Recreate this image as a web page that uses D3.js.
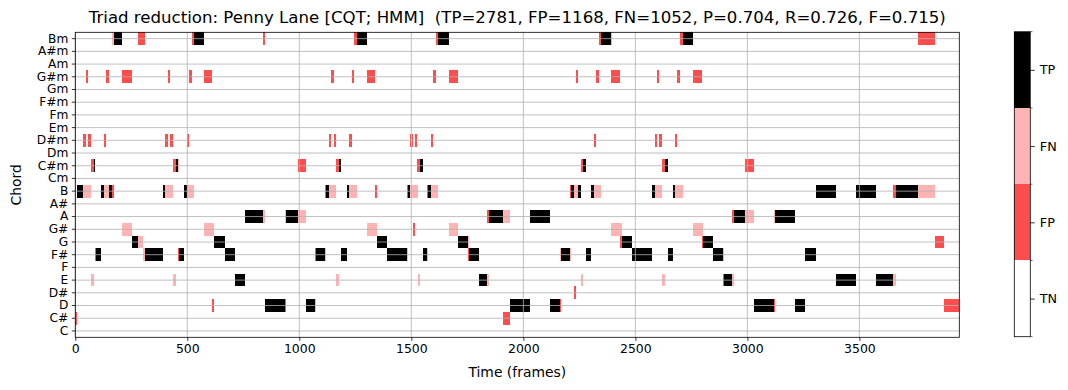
<!DOCTYPE html>
<html><head><meta charset="utf-8">
<script src="https://cdn.jsdelivr.net/npm/d3@7"></script>
<style>
body{margin:0;background:#fff;}
svg text{font-family:"DejaVu Sans",sans-serif;fill:#000;}
</style></head>
<body><svg id="chart" width="1068" height="390"></svg>
<script>
// ---------------- data ----------------
const chords = ["C","C#","D","D#","E","F","F#","G","G#","A","A#","B",
                "Cm","C#m","Dm","D#m","Em","Fm","F#m","Gm","G#m","Am","A#m","Bm"];
const nFrames = 3946;
const xTicks = [0,500,1000,1500,2000,2500,3000,3500];
const cbLabels = ["TN","FP","FN","TP"];
const cbColors = ["#ffffff","#ff4d4d","#ffb3b3","#000000"];
const titleText = "Triad reduction: Penny Lane [CQT; HMM]  (TP=2781, FP=1168, FN=1052, P=0.704, R=0.726, F=0.715)";

// true positives [chord, startFrame, endFrame]
const tpSegs = [
 ["Bm",171,208],["Bm",530,575],["Bm",1258,1302],["Bm",1619,1668],["Bm",2347,2392],["Bm",2713,2757],
 ["C#m",83,89],["C#m",450,458],["C#m",1177,1186],["C#m",1539,1552],["C#m",2266,2280],["C#m",2632,2646],
 ["B",8,34],["B",115,128],["B",150,164],["B",392,400],["B",485,499],["B",1119,1133],["B",1213,1222],
 ["B",1485,1494],["B",1575,1588],["B",2213,2226],["B",2244,2258],["B",2302,2315],["B",2575,2588],
 ["B",2668,2677],["B",3307,3396],["B",3485,3575],["B",3664,3762],
 ["A",758,838],["A",941,994],["A",1847,1909],["A",2030,2119],["A",2941,2990],["A",3124,3213],
 ["G",253,280],["G",619,668],["G",1347,1391],["G",1708,1753],["G",2441,2485],["G",2802,2847],
 ["F#",92,115],["F#",311,392],["F#",463,485],["F#",668,713],["F#",1075,1115],["F#",1186,1213],
 ["F#",1391,1481],["F#",1552,1570],["F#",1758,1802],["F#",2168,2208],["F#",2280,2302],["F#",2485,2575],
 ["F#",2646,2668],["F#",2847,2892],["F#",3258,3307],
 ["E",713,758],["E",1802,1838],["E",2896,2932],["E",3396,3485],["E",3575,3650],
 ["D",847,936],["D",1030,1070],["D",1941,2030],["D",2119,2164],["D",3030,3119],["D",3213,3258]
];
// false positives
const fpSegs = [
 ["Bm",280,311],["Bm",521,530],["Bm",838,847],["Bm",1244,1258],["Bm",1610,1619],["Bm",2338,2347],
 ["Bm",2700,2713],["Bm",3762,3838],
 ["G#m",48,57],["G#m",137,150],["G#m",208,253],["G#m",414,423],["G#m",508,521],["G#m",575,610],
 ["G#m",1142,1155],["G#m",1235,1244],["G#m",1302,1338],["G#m",1597,1610],["G#m",1668,1708],
 ["G#m",2235,2244],["G#m",2324,2338],["G#m",2392,2432],["G#m",2597,2606],["G#m",2686,2700],["G#m",2757,2798],
 ["D#m",34,48],["D#m",57,70],["D#m",128,137],["D#m",400,414],["D#m",423,436],["D#m",499,508],
 ["D#m",1133,1142],["D#m",1155,1164],["D#m",1222,1235],["D#m",1494,1499],["D#m",1503,1508],
 ["D#m",1517,1525],["D#m",1588,1597],["D#m",2315,2324],["D#m",2588,2597],["D#m",2606,2619],["D#m",2677,2686],
 ["C#m",70,83],["C#m",436,450],["C#m",994,1030],["C#m",1164,1177],["C#m",1525,1539],["C#m",2257,2266],
 ["C#m",2619,2632],["C#m",2990,3030],
 ["B",164,172],["B",1115,1119],["B",1338,1347],["B",1481,1485],["B",1570,1575],["B",2208,2213],["B",3650,3664],
 ["A",1838,1847],["A",2932,2941],
 ["G#",1508,1517],
 ["G",2432,2441],["G",2798,2802],["G",3838,3878],
 ["F#",89,92],["F#",458,463],["F#",1070,1075],["F#",1753,1758],
 ["E",2892,2896],
 ["D#",2226,2235],
 ["D",610,619],["D",936,941],["D",2164,2168],["D",3119,3124],["D",3878,3946],
 ["C#",0,7],["C#",1909,1941]
];
// false negatives
const fnSegs = [
 ["Bm",164,171],["Bm",2392,2396],
 ["C#m",458,463],
 ["B",34,70],["B",128,150],["B",400,436],["B",499,530],["B",1133,1164],["B",1222,1258],["B",1494,1530],
 ["B",1588,1619],["B",2226,2244],["B",2315,2347],["B",2588,2619],["B",2677,2713],["B",3762,3838],
 ["A",838,847],["A",936,941],["A",994,1030],["A",1909,1941],["A",2990,3030],["A",3119,3124],
 ["G#",208,253],["G#",575,619],["G#",1302,1347],["G#",1668,1708],["G#",2392,2441],["G#",2757,2802],
 ["G",280,302],["G",1753,1758],
 ["F#",302,311],["F#",1115,1119],["F#",1481,1485],["F#",1570,1575],["F#",2164,2168],["F#",2208,2213],["F#",2892,2896],
 ["E",70,83],["E",436,450],["E",1164,1177],["E",1530,1539],["E",1838,1847],["E",2257,2266],["E",2619,2632],
 ["E",2932,2941],["E",3650,3664],
 ["D",1070,1075]
];

// ---------------- drawing ----------------
const svg = d3.select("#chart");
const L = 75.3, R = 959.3, T = 32.3, B = 337.3;

const x = d3.scaleLinear().domain([0, nFrames]).range([L, R]);
const y = d3.scaleBand().domain(chords.slice().reverse()).range([T, B]).padding(0);

const kinds = [
  {segs: fpSegs, color: cbColors[1]},
  {segs: fnSegs, color: cbColors[2]},
  {segs: tpSegs, color: cbColors[3]}
];

const plot = svg.append("g");
kinds.forEach(k => {
  plot.selectAll(null).data(k.segs).enter().append("rect")
    .attr("x", d => x(d[1]))
    .attr("width", d => Math.max(0.8, x(d[2]) - x(d[1])))
    .attr("y", d => y(d[0]))
    .attr("height", y.bandwidth())
    .attr("fill", k.color)
    .attr("shape-rendering", "crispEdges");
});

// grid on top (matplotlib draws grid above image)
const grid = svg.append("g").attr("stroke", "#b0b0b0").attr("stroke-width", 0.8);
chords.forEach(c => {
  const yy = y(c) + y.bandwidth() / 2;
  grid.append("line").attr("x1", L).attr("x2", R).attr("y1", yy).attr("y2", yy);
});
xTicks.forEach(t => {
  grid.append("line").attr("x1", x(t)).attr("x2", x(t)).attr("y1", T).attr("y2", B);
});

// axes
const xAxis = d3.axisBottom(x).tickValues(xTicks).tickSize(3.5).tickPadding(3.5).tickFormat(d3.format("d"));
const gx = svg.append("g").attr("transform", `translate(0,${B})`).call(xAxis);
gx.select(".domain").remove();
gx.selectAll("line").attr("stroke", "#000").attr("stroke-width", 0.8);
gx.selectAll("text").attr("font-size", "12.5px").attr("font-family", "DejaVu Sans");

const yAxis = d3.axisLeft(y).tickSize(3.5).tickPadding(3.5);
const gy = svg.append("g").attr("transform", `translate(${L},0)`).call(yAxis);
gy.select(".domain").remove();
gy.selectAll("line").attr("stroke", "#000").attr("stroke-width", 0.8);
gy.selectAll("text").attr("font-size", "12.2px").attr("font-family", "DejaVu Sans");

// frame
svg.append("rect").attr("x", L).attr("y", T).attr("width", R - L).attr("height", B - T)
  .attr("fill", "none").attr("stroke", "#000").attr("stroke-width", 0.8);

// labels
svg.append("text").attr("x", (L + R) / 2).attr("y", 23).attr("text-anchor", "middle")
  .attr("font-size", "16.6px").style("white-space", "pre").attr("xml:space", "preserve").text(titleText);
svg.append("text").attr("x", (L + R) / 2).attr("y", 377).attr("text-anchor", "middle")
  .attr("font-size", "13.9px").text("Time (frames)");
svg.append("text").attr("transform", `translate(21,${(T + B) / 2}) rotate(-90)`).attr("text-anchor", "middle")
  .attr("font-size", "13.9px").text("Chord");

// colorbar
const cbL = 1014.3, cbW = 16, cbT = 31.7, cbB = 336.7;
const cy = d3.scaleLinear().domain([0, cbLabels.length]).range([cbB, cbT]);
const cb = svg.append("g");
cb.selectAll(null).data(cbLabels).enter().append("rect")
  .attr("x", cbL).attr("width", cbW)
  .attr("y", (d, i) => cy(i + 1)).attr("height", (d, i) => cy(i) - cy(i + 1))
  .attr("fill", (d, i) => cbColors[i]).attr("shape-rendering", "crispEdges");
cb.append("rect").attr("x", cbL).attr("y", cbT).attr("width", cbW).attr("height", cbB - cbT)
  .attr("fill", "none").attr("stroke", "#000").attr("stroke-width", 0.8);
const cbAxis = d3.axisRight(cy).tickValues(cbLabels.map((d, i) => i + 0.5))
  .tickFormat((d, i) => cbLabels[i]).tickSize(4.5).tickPadding(5);
const gcb = svg.append("g").attr("transform", `translate(${cbL + cbW},0)`).call(cbAxis);
gcb.select(".domain").remove();
gcb.selectAll("line").attr("stroke", "#000").attr("stroke-width", 0.8);
gcb.selectAll("text").attr("font-size", "12.8px").attr("font-family", "DejaVu Sans");
const minor = d3.range(0, cbLabels.length + 1);
gcb.selectAll(null).data(minor).enter().append("line")
  .attr("x1", 0).attr("x2", 2.2).attr("y1", d => cy(d)).attr("y2", d => cy(d))
  .attr("stroke", "#000").attr("stroke-width", 0.6);
</script></body></html>
